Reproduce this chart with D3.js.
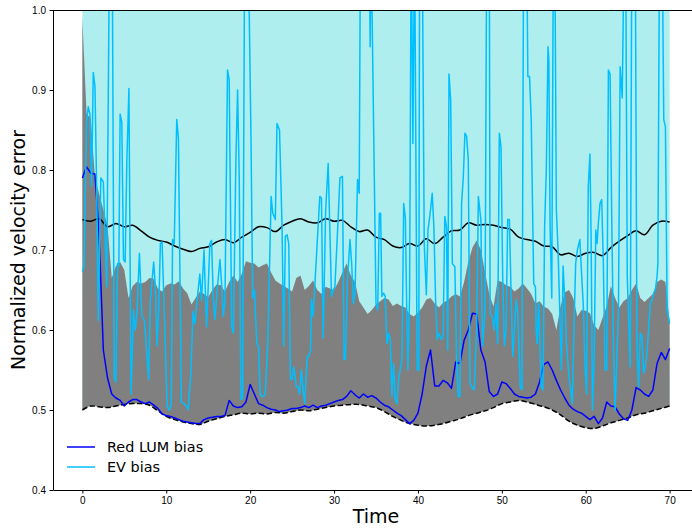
<!DOCTYPE html>
<html>
<head>
<meta charset="utf-8">
<script src="https://cdn.jsdelivr.net/npm/d3@7"></script>
<style>
  body { margin: 0; background: white; }
  svg { display: block; font-family: "DejaVu Sans", sans-serif; }
</style>
</head>
<body>
<svg id="chart" width="692" height="530"></svg>
<script>
// ---- data ----
const timeCoarse = [
  0,1,2,3,4,5,6,7,8,9,10,11,12,13,14,15,16,17,18,19,20,21,22,23,24,25,26,27,28,29,
  30,31,32,33,34,35,36,37,38,39,40,41,42,43,44,45,46,47,48,49,50,51,52,53,54,55,56,57,58,59,
  60,61,62,63,64,65,66,67,68,69,70
];
// solid black upper curve
const upperBound = [
  0.738,0.736,0.739,0.729,0.733,0.729,0.731,0.724,0.716,0.712,
  0.710,0.705,0.701,0.698,0.702,0.704,0.710,0.713,0.709,0.716,
  0.722,0.729,0.728,0.723,0.731,0.736,0.739,0.735,0.734,0.739,
  0.736,0.737,0.729,0.723,0.725,0.716,0.713,0.705,0.703,0.708,
  0.705,0.714,0.708,0.716,0.724,0.725,0.734,0.731,0.732,0.731,
  0.728,0.726,0.716,0.713,0.711,0.705,0.704,0.694,0.696,0.692,
  0.696,0.697,0.693,0.703,0.711,0.718,0.724,0.719,0.731,0.736,
  0.735
];
// dashed black lower curve
const lowerBound = [
  0.500,0.505,0.504,0.503,0.505,0.507,0.508,0.508,0.506,0.499,
  0.492,0.488,0.485,0.483,0.482,0.486,0.489,0.492,0.494,0.496,
  0.495,0.496,0.495,0.497,0.496,0.498,0.500,0.499,0.501,0.503,
  0.505,0.506,0.507,0.507,0.505,0.503,0.498,0.492,0.487,0.483,
  0.481,0.480,0.481,0.483,0.486,0.489,0.493,0.496,0.499,0.503,
  0.508,0.510,0.512,0.510,0.507,0.504,0.500,0.494,0.486,0.481,
  0.478,0.477,0.480,0.484,0.487,0.490,0.494,0.496,0.499,0.502,
  0.505
];

const timeFine = [
  0,0.5,1,1.5,2,2.5,3,3.5,4,4.5, 5,5.5,6,6.5,7,7.5,8,8.5,9,9.5,
  10,10.5,11,11.5,12,12.5,13,13.5,14,14.5, 15,15.5,16,16.5,17,17.5,18,18.5,19,19.5,
  20,20.5,21,21.5,22,22.5,23,23.5,24,24.5, 25,25.5,26,26.5,27,27.5,28,28.5,29,29.5,
  30,30.5,31,31.5,32,32.5,33,33.5,34,34.5, 35,35.5,36,36.5,37,37.5,38,38.5,39,39.5,
  40,40.5,41,41.5,42,42.5,43,43.5,44,44.5, 45,45.5,46,46.5,47,47.5,48,48.5,49,49.5,
  50,50.5,51,51.5,52,52.5,53,53.5,54,54.5, 55,55.5,56,56.5,57,57.5,58,58.5,59,59.5,
  60,60.5,61,61.5,62,62.5,63,63.5,64,64.5, 65,65.5,66,66.5,67,67.5,68,68.5,69,69.5,
  70
];
// top edge of the grey band
const greyTop = [
  0.99,0.87,0.865,0.79,0.77,0.75,0.73,0.665,0.68,0.685,
  0.675,0.64,0.655,0.66,0.658,0.66,0.665,0.664,0.652,0.648,
  0.656,0.658,0.657,0.661,0.652,0.646,0.632,0.64,0.648,0.645,
  0.641,0.65,0.657,0.656,0.648,0.66,0.668,0.66,0.67,0.686,
  0.684,0.683,0.678,0.681,0.683,0.672,0.662,0.658,0.655,0.652,
  0.648,0.665,0.668,0.65,0.655,0.662,0.65,0.645,0.654,0.652,
  0.65,0.66,0.672,0.683,0.668,0.66,0.636,0.628,0.62,0.625,
  0.632,0.636,0.64,0.638,0.63,0.633,0.63,0.628,0.62,0.617,
  0.622,0.628,0.638,0.64,0.633,0.628,0.634,0.637,0.642,0.645,
  0.642,0.66,0.685,0.703,0.712,0.70,0.672,0.645,0.629,0.662,
  0.66,0.656,0.654,0.648,0.652,0.658,0.652,0.645,0.633,0.636,
  0.629,0.627,0.62,0.60,0.63,0.647,0.65,0.64,0.617,0.625,
  0.624,0.621,0.606,0.60,0.615,0.63,0.655,0.64,0.628,0.636,
  0.64,0.65,0.658,0.64,0.635,0.64,0.645,0.66,0.663,0.66,
  0.61
];
// "Red LUM bias"
const redLumBias = [
  0.79,0.804,0.796,0.795,0.718,0.575,0.54,0.52,0.515,0.512,
  0.505,0.51,0.513,0.513,0.51,0.508,0.51,0.506,0.502,0.495,
  0.493,0.492,0.49,0.488,0.486,0.485,0.484,0.483,0.483,0.488,
  0.49,0.491,0.492,0.492,0.493,0.512,0.505,0.503,0.504,0.51,
  0.532,0.52,0.508,0.506,0.503,0.501,0.5,0.498,0.499,0.5,
  0.502,0.502,0.503,0.505,0.503,0.506,0.503,0.505,0.506,0.508,
  0.51,0.512,0.513,0.517,0.524,0.519,0.515,0.52,0.516,0.518,
  0.515,0.51,0.506,0.504,0.5,0.496,0.493,0.488,0.483,0.487,
  0.496,0.52,0.555,0.575,0.53,0.53,0.537,0.534,0.527,0.56,
  0.558,0.587,0.6,0.621,0.62,0.575,0.56,0.523,0.517,0.52,
  0.535,0.533,0.527,0.52,0.517,0.516,0.515,0.516,0.52,0.535,
  0.557,0.56,0.55,0.537,0.525,0.515,0.506,0.501,0.498,0.496,
  0.492,0.488,0.492,0.483,0.49,0.51,0.505,0.504,0.495,0.489,
  0.487,0.5,0.528,0.525,0.52,0.517,0.525,0.558,0.572,0.563,
  0.577
];

// "EV bias" (irregular sampling, values past 1.0 run off the top)
const evTime = [
  0,0.2,0.5,0.7,0.9,1.1,1.3,1.5,1.7,1.9,2.2,2.5,2.9,3.25,3.55,3.8,4,4.2,4.35,4.5,
  4.7,4.9,5.1,5.3,5.55,5.8,6.1,6.3,6.5,6.8,7.1,7.4,7.6,7.9,8.1,8.5,8.7,8.9,9.1,9.3,
  9.5,9.8,10.1,10.4,10.6,10.75,10.95,11.25,11.45,11.8,12.1,12.4,12.6,12.9,13.2,13.4,13.8,14,14.2,14.5,
  14.8,15,15.2,15.4,15.6,15.8,16.1,16.4,16.6,16.8,17,17.3,17.5,17.8,18,18.3,18.5,18.7,18.9,19.1,
  19.35,19.75,20.1,20.3,20.5,20.8,21,21.2,21.4,21.6,21.8,22.1,22.5,22.7,23,23.2,23.5,23.8,24,24.2,
  24.4,24.6,24.8,25,25.2,25.5,25.7,25.9,26.1,26.3,26.5,26.8,27,27.2,27.3,27.5,27.7,28.3,28.5,28.7,
  29,29.3,29.5,29.7,29.9,30.1,30.5,30.7,31,31.2,31.35,31.6,31.9,32.1,32.3,32.5,32.8,33,33.15,34.2,
  34.3,34.4,35,35.2,35.4,35.55,35.7,35.9,36.1,36.3,36.5,36.7,36.9,37.1,37.3,37.5,37.7,38.1,38.3,38.5,
  38.65,38.8,39,39.2,39.4,39.6,39.9,40.1,40.2,40.5,40.75,41,41.2,41.5,41.7,41.9,42.1,42.3,42.5,42.8,
  43,43.2,43.4,43.55,43.7,43.9,44.1,44.4,44.6,44.8,45,45.2,45.4,45.6,45.8,46,46.2,46.4,46.7,47,
  47.2,47.5,47.7,48,48.2,48.5,48.6,48.85,49.1,49.3,49.5,49.7,49.9,50.1,50.3,50.5,50.7,50.9,51.1,51.3,
  51.5,51.7,51.9,52.2,52.4,52.6,52.95,53.1,53.3,53.5,53.8,54,54.1,54.2,54.4,54.7,54.9,55.1,55.3,55.5,
  55.6,55.75,55.95,56.15,56.3,56.5,56.7,56.9,57.1,57.3,57.5,57.7,58,58.4,58.6,58.8,59,59.3,59.5,59.7,
  59.9,60.1,60.3,60.5,60.65,60.8,61,61.2,61.35,61.5,61.7,61.9,62.1,62.3,62.5,62.7,62.9,63.1,63.3,63.5,
  63.7,63.9,64.1,64.35,64.6,64.75,64.95,65.1,65.3,65.5,65.9,66.1,66.3,66.5,66.7,66.9,67.1,67.3,67.7,67.9,
  68.1,68.3,68.5,68.6,68.8,69.1,69.3,69.5,69.7,70
];
const evBias = [
  0.673,0.68,0.86,0.879,0.87,0.78,0.922,0.905,0.78,0.612,0.79,0.785,0.654,1.1,1.1,0.54,0.535,0.683,0.68,0.87,
  0.86,0.688,0.685,0.81,0.902,0.52,0.625,0.6,0.62,0.696,0.617,0.612,0.583,0.538,0.637,0.685,0.654,0.58,0.625,0.708,
  0.71,0.61,0.505,0.5,0.508,0.713,0.708,0.863,0.84,0.51,0.508,0.505,0.5,0.54,0.623,0.608,0.65,0.67,0.637,0.7,
  0.604,0.654,0.708,0.712,0.642,0.613,0.654,0.688,0.658,0.617,0.637,0.925,0.913,0.604,0.596,0.813,0.9,0.79,0.513,0.515,
  1.1,1.1,0.84,0.64,0.65,0.583,0.579,0.52,0.517,0.517,0.52,0.583,0.767,0.746,0.738,0.858,0.85,0.73,0.58,0.717,
  0.719,0.708,0.538,0.538,0.554,0.529,0.529,0.52,0.55,0.525,0.508,0.567,0.567,0.575,0.638,0.617,0.654,0.767,0.765,0.59,
  0.75,0.808,0.725,0.642,0.65,0.654,0.742,0.79,0.792,0.563,0.563,0.662,0.713,0.683,0.633,0.646,0.788,0.771,1.1,1.1,
  0.954,1.1,0.633,0.625,0.746,0.746,0.642,0.646,0.642,0.583,0.596,0.588,0.517,0.558,0.513,0.508,0.54,0.563,0.758,0.74,
  0.633,0.55,0.642,1.1,0.833,1.1,0.55,0.55,1.1,1.1,0.708,0.644,0.725,0.75,0.771,0.729,0.638,0.588,0.596,0.588,
  0.592,0.742,0.729,0.575,0.92,0.888,0.683,0.679,0.567,0.517,0.517,0.758,0.79,0.846,0.842,0.813,0.533,0.529,0.525,0.6,
  0.767,0.738,0.58,0.625,1.1,1.1,0.62,0.617,0.6,0.633,0.583,0.846,0.829,0.667,0.58,0.6,0.738,0.738,0.646,0.567,
  0.6,0.638,0.621,0.529,0.525,1.1,1.1,0.917,0.917,0.863,0.658,0.654,0.6,0.583,0.633,0.529,0.525,0.729,0.8,0.954,
  0.938,0.73,0.64,1.1,1.1,0.75,0.7,0.625,0.55,0.68,0.637,0.583,0.542,0.508,0.604,0.683,0.7,0.713,0.671,0.633,
  0.558,0.52,0.779,0.82,0.708,0.5,0.563,0.725,0.708,0.733,0.758,0.763,0.683,0.55,0.55,0.925,0.92,0.742,0.583,0.5,
  0.563,0.625,0.929,0.89,1.1,1.1,0.667,0.617,0.554,1.1,1.1,0.583,0.529,0.596,0.592,0.546,0.554,0.571,0.633,0.638,
  0.646,0.65,0.667,0.683,1.1,1.1,0.863,0.854,0.625,0.608
];

const xTicks = [0, 10, 20, 30, 40, 50, 60, 70];
const yTicks = [0.4, 0.5, 0.6, 0.7, 0.8, 0.9, 1.0];
const legendLabels = ["Red LUM bias", "EV bias"];
const legendColors = ["blue", "deepskyblue"];

// ---- scales ----
const svg = d3.select("#chart");
const x = d3.scaleLinear().domain([-3.5, 73.5]).range([53, 699]);
const y = d3.scaleLinear().domain([0.4, 1.0]).range([490, 10]);

svg.append("defs").append("clipPath").attr("id", "plot-clip")
  .append("rect")
    .attr("x", x.range()[0])
    .attr("y", y.range()[1])
    .attr("width", x.range()[1] - x.range()[0])
    .attr("height", y.range()[0] - y.range()[1]);

const plot = svg.append("g").attr("clip-path", "url(#plot-clip)");

const lowerPts = timeCoarse.map((t, i) => ({ t, v: lowerBound[i] }));
const upperPts = timeCoarse.map((t, i) => ({ t, v: upperBound[i] }));
const greyPts  = timeFine.map((t, i) => ({ t, v: greyTop[i] }));
const bluePts  = timeFine.map((t, i) => ({ t, v: redLumBias[i] }));
const evPts    = evTime.map((t, i) => ({ t, v: evBias[i] }));

const smooth = d3.line().curve(d3.curveCatmullRom).x(d => x(d.t)).y(d => y(d.v));
const straight = d3.line().x(d => x(d.t)).y(d => y(d.v));

// cyan band: from the lower bound up past the top of the axes
plot.append("path")
  .datum(lowerPts)
  .attr("fill", "paleturquoise")
  .attr("d", d3.area().curve(d3.curveCatmullRom)
    .x(d => x(d.t))
    .y0(d => y(d.v))
    .y1(() => y(y.domain()[1]) - 2));

// grey band: jagged top, smooth lower bound
const greyPath = straight(greyPts) + "L" + smooth(lowerPts.slice().reverse()).slice(1) + "Z";
plot.append("path")
  .attr("fill", "grey")
  .attr("d", greyPath);

plot.append("path")
  .datum(upperPts)
  .attr("fill", "none")
  .attr("stroke", "black")
  .attr("stroke-width", 1.5)
  .attr("d", smooth);

plot.append("path")
  .datum(lowerPts)
  .attr("fill", "none")
  .attr("stroke", "black")
  .attr("stroke-width", 1.5)
  .attr("stroke-dasharray", "5.5,2.5")
  .attr("d", smooth);

plot.append("path")
  .datum(bluePts)
  .attr("fill", "none")
  .attr("stroke", "blue")
  .attr("stroke-width", 1.5)
  .attr("stroke-linejoin", "round")
  .attr("d", straight);

plot.append("path")
  .datum(evPts)
  .attr("fill", "none")
  .attr("stroke", "deepskyblue")
  .attr("stroke-width", 1.5)
  .attr("stroke-linejoin", "round")
  .attr("d", straight);

// ---- axes ----
const xAxis = d3.axisBottom(x)
  .tickValues(xTicks)
  .tickFormat(d3.format("d"))
  .tickSize(3.5)
  .tickPadding(3.5)
  .tickSizeOuter(0);

const yAxis = d3.axisLeft(y)
  .tickValues(yTicks)
  .tickFormat(d3.format(".1f"))
  .tickSize(3.5)
  .tickPadding(3.5)
  .tickSizeOuter(0);

svg.append("g")
  .attr("transform", `translate(0,${y.range()[0]})`)
  .attr("font-family", "DejaVu Sans")
  .attr("font-size", 9.5)
  .style("color", "black")
  .call(xAxis);

svg.append("g")
  .attr("transform", `translate(${x.range()[0]},0)`)
  .attr("font-family", "DejaVu Sans")
  .attr("font-size", 9.5)
  .style("color", "black")
  .call(yAxis);

// top spine
svg.append("line")
  .attr("x1", x.range()[0]).attr("x2", x.range()[1])
  .attr("y1", y.range()[1] + 0.5).attr("y2", y.range()[1] + 0.5)
  .attr("stroke", "black");

// ---- labels ----
svg.append("text")
  .attr("transform", "translate(25,250) rotate(-90)")
  .attr("text-anchor", "middle")
  .attr("font-size", 19)
  .text("Normalized velocity error");

svg.append("text")
  .attr("x", (x.range()[0] + x.range()[1]) / 2)
  .attr("y", 523)
  .attr("text-anchor", "middle")
  .attr("font-size", 19)
  .text("Time");

// ---- legend ----
const legend = svg.append("g").attr("transform", "translate(67,447)");
legendLabels.forEach((label, i) => {
  const row = legend.append("g").attr("transform", `translate(0,${i * 20})`);
  row.append("line")
    .attr("x1", 0).attr("x2", 28)
    .attr("stroke", legendColors[i])
    .attr("stroke-width", 1.5);
  row.append("text")
    .attr("x", 40)
    .attr("dy", "0.35em")
    .attr("font-size", 14.4)
    .text(label);
});
</script>
</body>
</html>
